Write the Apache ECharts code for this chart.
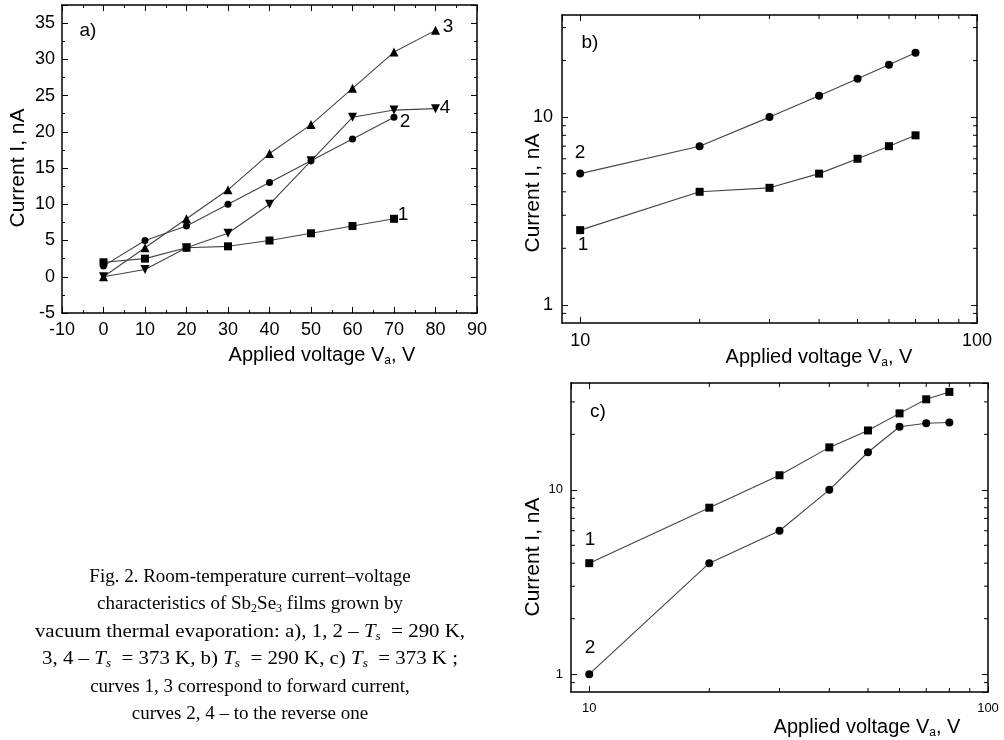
<!DOCTYPE html>
<html><head><meta charset="utf-8">
<script src="https://cdn.jsdelivr.net/npm/echarts@6/dist/echarts.min.js"></script>
<style>html,body{margin:0;padding:0;background:#fff}#main{width:1004px;height:740px}</style>
</head><body><div id="main"></div>
<script>
// a) linear I-V, curves 1,2 Ts=290K, 3,4 Ts=373K
const voltA = [0,10,20,30,40,50,60,70,80];
const a1 = [2,2.5,4,4.2,5,6,7,8];
const a2 = [1.5,5,7,10,13,16,19,22];
const a3 = [0,4,8,12,17,21,26,31,34];
const a4 = [0,1,4,6,10,16,22,23,23.2];
// b) log-log, Ts=290K
const voltB = [10,20,30,40,50,60,70];
const b1 = [2.5,4,4.2,5,6,7,8];
const b2 = [5,7,10,13,16,19,22];
// c) log-log, Ts=373K
const voltC = [10,20,30,40,50,60,70,80];
const c1 = [4,8,12,17,21,26,31,34];
const c2 = [1,4,6,10,16,22,23,23.2];
// minor ticks of the log axes
const logMinorY = [0.9,2,3,4,5,6,7,8,9,20,30];
const logMinorX = [20,30,40,50,60,70,80,90];

const SANS = 'Liberation Sans', SERIF = 'Liberation Serif';
const pairs = (xs, ys) => ys.map((v,i)=>[xs[i], v]);

function ax(type, grid, pos, min, max, lab, extra){
  return Object.assign({
    type, gridIndex:grid, position:pos, min, max,
    axisLine:{show:true, onZero:false, lineStyle:{color:'#000', width:1.5}},
    axisTick:{show:true, inside:true, length:6, lineStyle:{color:'#000', width:1}},
    splitLine:{show:false},
    axisLabel:{show:!!lab, color:'#000', fontFamily:SANS, fontSize:lab||12, margin:8}
  }, extra||{});
}
const minorA = {minorTick:{show:true, splitNumber:2, length:3, lineStyle:{color:'#000', width:1}}};
const lbl = (size, margin, o) => ({axisLabel:Object.assign({color:'#000', fontFamily:SANS, fontSize:size, margin}, o)});

function line(xi, data, sym, size, rot){
  return {type:'line', xAxisIndex:xi, yAxisIndex:xi, data, symbol:sym, symbolSize:size,
    symbolRotate:rot||0, showSymbol:true, silent:true, animation:false,
    lineStyle:{color:'#444', width:1.1}, itemStyle:{color:'#000'}, z:3};
}

function minor(xi, dim, vals, fixed){
  return {type:'custom', xAxisIndex:xi, yAxisIndex:xi, silent:true, animation:false, clip:false, z:4,
    data: vals.map(v => dim==='y' ? [fixed, v] : [v, fixed]),
    encode:{x:0, y:1},
    renderItem:(params, api)=>{
      const cs = params.coordSys, L = 4;
      const p = api.coord([api.value(0), api.value(1)]);
      const st = {stroke:'#000', lineWidth:1};
      if (dim==='y') return {type:'group', children:[
        {type:'line', shape:{x1:cs.x, y1:p[1], x2:cs.x+L, y2:p[1]}, style:st},
        {type:'line', shape:{x1:cs.x+cs.width, y1:p[1], x2:cs.x+cs.width-L, y2:p[1]}, style:st}]};
      return {type:'group', children:[
        {type:'line', shape:{x1:p[0], y1:cs.y+cs.height, x2:p[0], y2:cs.y+cs.height-L}, style:st},
        {type:'line', shape:{x1:p[0], y1:cs.y, x2:p[0], y2:cs.y+L}, style:st}]};
    }};
}

// subscript: small font pushed to the bottom of the line box
const subStyle = (size, fam, extra) => Object.assign({fontSize:size, fontFamily:fam, verticalAlign:'bottom', lineHeight:Math.round(size*0.8)}, extra||{});

function txt(x, y, text, size, extra){
  const e = {type:'text', x, y, silent:true, style:{text, fontSize:size, fontFamily:SANS, fill:'#000',
    lineHeight:Math.round(size*1.15),
    align:'center', verticalAlign:'middle', textAlign:'center', textVerticalAlign:'middle',
    rich:{s:subStyle(Math.round(size*0.6), SANS)}}};
  return Object.assign(e, extra||{});
}
const VOLT = 'Applied voltage V{s|a}, V', CUR = 'Current I, nA';
const rot = {rotation:Math.PI/2};

function cap(y, text, sx){
  return {type:'text', x:250, y, scaleX:sx||1, silent:true, style:{text, fontSize:19, fontFamily:SERIF, fill:'#000',
    lineHeight:22,
    align:'center', verticalAlign:'middle', textAlign:'center', textVerticalAlign:'middle',
    rich:{s:subStyle(12, SERIF),
          i:{fontSize:19, fontFamily:SERIF, fontStyle:'italic', lineHeight:22},
          is:subStyle(12, SERIF, {fontStyle:'italic'})}}};
}

const chart = echarts.init(document.getElementById('main'), null, {renderer:'canvas'});
chart.setOption({
  animation:false,
  backgroundColor:'#fff',
  grid:[
    {left:62, top:5, width:415, height:308},
    {left:562, top:15, width:415, height:308},
    {left:571, top:383, width:417, height:309}
  ],
  xAxis:[
    ax('value',0,'bottom',-10,90,18,Object.assign({interval:10},minorA)),
    ax('value',0,'top',-10,90,0,Object.assign({interval:10},minorA)),
    ax('log',1,'bottom',9,100,18,lbl(18,9,{showMinLabel:false})),
    ax('log',1,'top',9,100,0),
    ax('log',2,'bottom',9,100,13,lbl(13,10,{showMinLabel:false})),
    ax('log',2,'top',9,100,0)
  ],
  yAxis:[
    ax('value',0,'left',-5,37.5,18,Object.assign({interval:5},minorA,lbl(18,7,{showMaxLabel:false}))),
    ax('value',0,'right',-5,37.5,0,Object.assign({interval:5},minorA)),
    ax('log',1,'left',0.8,35,18,lbl(18,9,{showMinLabel:false,showMaxLabel:false})),
    ax('log',1,'right',0.8,35,0),
    ax('log',2,'left',0.8,38,13,lbl(13,8,{showMinLabel:false,showMaxLabel:false})),
    ax('log',2,'right',0.8,38,0)
  ],
  series:[
    line(0, pairs(voltA,a1), 'rect', 8),
    line(0, pairs(voltA,a2), 'circle', 7),
    line(0, pairs(voltA,a3), 'triangle', 9),
    line(0, pairs(voltA,a4), 'triangle', 9, 180),
    line(2, pairs(voltB,b1), 'rect', 8),
    line(2, pairs(voltB,b2), 'circle', 8),
    line(4, pairs(voltC,c1), 'rect', 8),
    line(4, pairs(voltC,c2), 'circle', 8),
    minor(2,'y',logMinorY,10), minor(2,'x',logMinorX,1),
    minor(4,'y',logMinorY,10), minor(4,'x',logMinorX,1)
  ],
  graphic:[
    txt(88,31,'a)',19), txt(448,27,'3',19), txt(445,108,'4',19), txt(405,122,'2',19), txt(403,215,'1',19),
    txt(590,43,'b)',19), txt(580,153,'2',19), txt(583,245,'1',19),
    txt(598,412,'c)',19), txt(590,540,'1',19), txt(590,648,'2',19),
    txt(18,168,CUR,21,rot), txt(322,355,VOLT,20),
    txt(533,193,CUR,21,rot), txt(819,357,VOLT,20),
    txt(533,557,CUR,21,rot), txt(867,727,VOLT,20),
    cap(577,'Fig. 2. Room-temperature current–voltage'),
    cap(604,'characteristics of Sb{s|2}Se{s|3} films grown by'),
    cap(632,'vacuum thermal evaporation: a), 1, 2 – {i|T}{is|s}  = 290 K,', 1.1),
    cap(659,'3, 4 – {i|T}{is|s}  = 373 K, b) {i|T}{is|s}  = 290 K, c) {i|T}{is|s}  = 373 K ;', 1.1),
    cap(687,'curves 1, 3 correspond to forward current,'),
    cap(714,'curves 2, 4 – to the reverse one')
  ]
});
</script>
</body></html>
